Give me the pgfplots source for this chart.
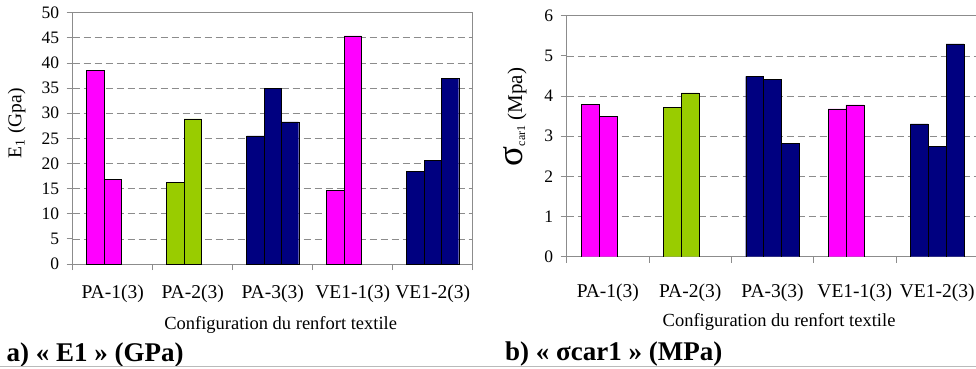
\documentclass[border=0pt]{standalone}
\usepackage{fontspec}
\setmainfont{Liberation Serif}
\usepackage{pgfplots}
\pgfplotsset{compat=1.18}
\definecolor{pk}{HTML}{FF00FF}
\definecolor{gr}{HTML}{99CC00}
\definecolor{nv}{HTML}{000080}
\definecolor{ax}{HTML}{8C8C8C}
\pgfplotsset{
  common/.style={
    scale only axis, anchor=south west,
    xmin=-0.5, xmax=4.5, ymin=0,
    xtick={0,1,2,3,4},
    xticklabels={PA-1(3),PA-2(3),PA-3(3),VE1-1(3),VE1-2(3)},
    minor xtick={-0.5,0.5,1.5,2.5,3.5,4.5},
    major x tick style={draw=none},
    minor x tick style={draw=ax, line width=0.8pt},
    major y tick style={draw=ax, line width=0.8pt},
    minor tick length=6pt, major tick length=6pt,
    tick align=outside, xtick pos=bottom, ytick pos=left,
    axis line style={draw=ax, line width=0.8pt},
    ymajorgrids,
    major grid style={draw=ax, dash pattern=on 7pt off 4pt, line width=0.7pt},
    /pgf/number format/assume math mode=true,
    yticklabel style={font=\fontsize{17.5}{17.5}\selectfont, xshift=-4pt},
    xticklabel style={font=\fontsize{19.5}{19.5}\selectfont, anchor=center},
    xlabel={Configuration du renfort textile},
    xlabel style={font=\fontsize{18.5}{18.5}\selectfont, anchor=center},
    ylabel style={anchor=center},
  },
  bars/.style={ybar, bar width=0.217, bar shift=0pt, draw=black, line width=0.4pt},
}
\begin{document}
\begin{tikzpicture}
\useasboundingbox (0,0) rectangle (976pt,368pt);
% left chart: E1
\begin{axis}[common, at={(72.7pt,104pt)}, width=400pt, height=251.3pt,
  ymax=50, ytick={0,5,...,50},
  xticklabel style={yshift=-24pt},
  xlabel style={at={(axis description cs:0.52,-0.243)}},
  ylabel={E\textsubscript{1} (Gpa)},
  ylabel style={font=\fontsize{19.5}{19.5}\selectfont, at={(axis description cs:-0.14,0.56)}}]
\addplot[bars, fill=pk] coordinates {(-0.217,38.5) (0,16.9) (2.783,14.7) (3,45.4)};
\addplot[bars, fill=gr] coordinates {(0.783,16.2) (1,28.9)};
\addplot[bars, fill=nv] coordinates {(1.783,25.5) (2,35.0) (2.217,28.3) (3.783,18.4) (4,20.6) (4.217,36.9)};
\end{axis}
% right chart: sigma car1
\begin{axis}[common, at={(566.7pt,111.3pt)}, width=411.6pt, height=241pt,
  ymax=6, ytick={0,1,...,6},
  xticklabel style={yshift=-30pt},
  xlabel style={at={(axis description cs:0.516,-0.27)}},
  ylabel={{\fontsize{37}{37}\selectfont σ}\raisebox{-3pt}{\fontsize{12}{12}\selectfont car1} (Mpa)},
  ylabel style={font=\fontsize{21}{21}\selectfont, at={(axis description cs:-0.126,0.58)}}]
\addplot[bars, fill=pk] coordinates {(-0.217,3.80) (0,3.50) (2.783,3.68) (3,3.78)};
\addplot[bars, fill=gr] coordinates {(0.783,3.72) (1,4.08)};
\addplot[bars, fill=nv] coordinates {(1.783,4.49) (2,4.41) (2.217,2.83) (3.783,3.31) (4,2.75) (4.217,5.30)};
\end{axis}
\node[anchor=base west, font=\bfseries\fontsize{27}{27}\selectfont, inner sep=0pt] at (6.5pt,7pt) {a) « E1 » (GPa)};
\node[anchor=base west, font=\bfseries\fontsize{27}{27}\selectfont, inner sep=0pt] at (505pt,7.5pt) {b) « σcar1 » (MPa)};
\draw[ax!60, line width=1pt] (0,1.5pt) -- (976pt,1.5pt);
\end{tikzpicture}
\end{document}
